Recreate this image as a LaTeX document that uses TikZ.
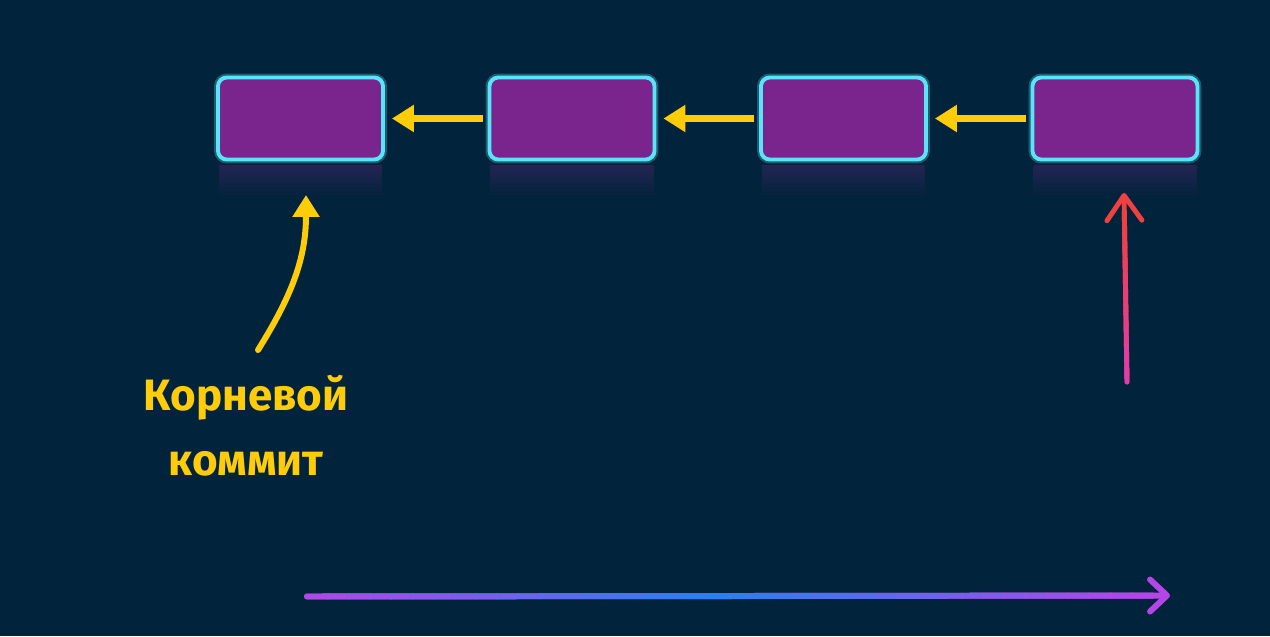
\documentclass[tikz,border=0pt]{standalone}
\usepackage{fontspec}
\setmainfont{Fira Sans}
\usetikzlibrary{arrows.meta, calc}
\definecolor{bg}{RGB}{2,35,60}
\definecolor{boxpurple}{RGB}{122,36,142}
\definecolor{boxcyan}{RGB}{90,228,248}
\definecolor{shine}{RGB}{34,36,82}
\definecolor{gold}{RGB}{255,204,10}
\definecolor{redtop}{RGB}{240,64,64}
\definecolor{pinkbot}{RGB}{226,60,180}
\definecolor{violet}{RGB}{180,70,232}
\definecolor{midblue}{RGB}{40,128,240}
\tikzstyle{commit} = [rectangle, rounded corners=5pt, minimum width=3.3cm, minimum height=1.64cm, inner sep=0pt, draw=boxcyan, line width=2.2pt, fill=boxpurple, preaction={draw=boxcyan, draw opacity=0.3, line width=4.5pt}]
\tikzstyle{arrow} = [line width=4pt, draw=gold, -{Triangle[length=0.44cm, width=0.52cm]}]
\tikzstyle{note} = [text=gold, font=\bfseries\fontsize{25}{37}\selectfont, align=center]
\tikzstyle{headarrow} = [line width=2.8pt, line cap=round, draw=redtop, -{Straight Barb[round, length=0.5cm, width=0.7cm]}]
\tikzstyle{timearrow} = [line width=3.4pt, line cap=round, draw=violet, -{Straight Barb[round, length=0.34cm, width=0.64cm]}]
\begin{document}
\begin{tikzpicture}[node distance=5.43cm]
\fill[bg] (0,0) rectangle (25.4,12.72);
\useasboundingbox (0,0) rectangle (25.4,12.72);
\node (commit_1) [commit] at (6.01,10.35) {};
\node (commit_2) [commit, right of=commit_1] {};
\node (commit_3) [commit, right of=commit_2] {};
\node (commit_4) [commit, right of=commit_3] {};
\foreach \c in {commit_1,commit_2,commit_3,commit_4}
  \shade[top color=shine, bottom color=bg] ($(\c.south west)+(0.06,-0.09)$) rectangle ($(\c.south east)+(-0.06,-0.7)$);

\draw [arrow, shorten <=0.1cm, shorten >=0.14cm] (commit_2) -- (commit_1);
\draw [arrow, shorten <=0.1cm, shorten >=0.14cm] (commit_3) -- (commit_2);
\draw [arrow, shorten <=0.1cm, shorten >=0.14cm] (commit_4) -- (commit_3);

\node (root_label) [note] at (4.92,4.2) {Корневой\\коммит};
\coordinate (root_tail) at (5.16,5.72);
\coordinate (root_tip) at (6.12,8.82);
\draw [arrow, line width=3.4pt, line cap=round] (root_tail) to[out=58, in=-90] (root_tip);

\coordinate (head_tail) at (22.54,5.08);
\coordinate (head_tip) at (22.48,8.86);
\draw [headarrow] (head_tail) -- (head_tip);
\foreach \i [evaluate=\i as \p using int(100*\i/24)] in {1,...,24}
  \draw [line width=2.8pt, line cap=round, draw=redtop!\p!pinkbot] ($(head_tail)!{(\i-1)/24*0.9}!(head_tip)$) -- ($(head_tail)!{\i/24*0.9}!(head_tip)$);

\coordinate (time_tail) at (6.14,0.79);
\coordinate (time_tip) at (23.4,0.81);
\draw [timearrow] (time_tail) -- (time_tip);
\foreach \i [evaluate=\i as \p using int(100*\i/20)] in {1,...,20}
  \draw [line width=3.4pt, line cap=round, draw=midblue!\p!violet] ($(time_tail)!{(\i-1)/40*0.98}!(time_tip)$) -- ($(time_tail)!{\i/40*0.98}!(time_tip)$);
\foreach \i [evaluate=\i as \p using int(100*\i/20)] in {1,...,20}
  \draw [line width=3.4pt, line cap=round, draw=violet!\p!midblue] ($(time_tail)!{(\i+19)/40*0.98}!(time_tip)$) -- ($(time_tail)!{(\i+20)/40*0.98}!(time_tip)$);
\end{tikzpicture}
\end{document}
